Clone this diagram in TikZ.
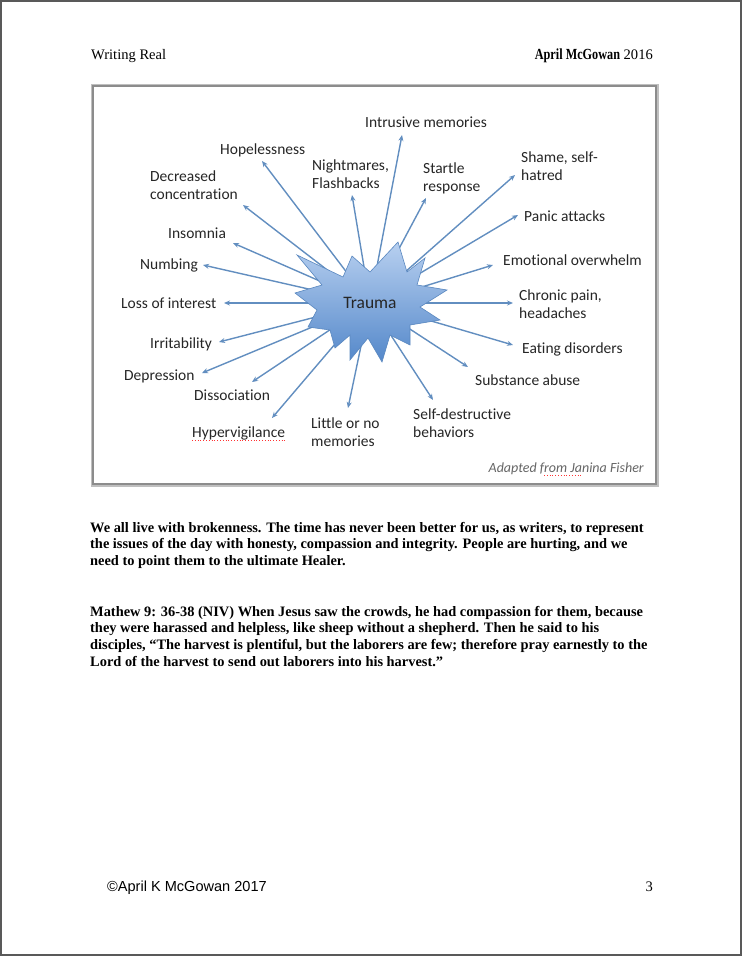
\documentclass[tikz,border=0pt]{standalone}
\usepackage{fontspec}
\setmainfont{Liberation Serif}
\newfontfamily\calibri[Ligatures=NoCommon]{Carlito}
\newfontfamily\arialf{Liberation Sans}
\usetikzlibrary{arrows.meta}
\definecolor{arrowblue}{RGB}{98,142,192}
\definecolor{starlight}{RGB}{184,208,240}
\definecolor{stardark}{RGB}{84,136,202}
\definecolor{starline}{RGB}{90,136,192}
\definecolor{framegray}{RGB}{140,140,140}
\begin{document}
\begin{tikzpicture}[x=1pt,y=-1pt,
  lab/.style={font=\calibri\fontsize{15.5}{18}\selectfont, inner sep=0pt, anchor=base west, align=left, text=black!85},
  ray/.style={draw=arrowblue, line width=1.4pt, -{Stealth[length=6pt,width=5pt]}},
  bodytext/.style={font=\bfseries\fontsize{14.4}{16.7}\selectfont, inner sep=0pt, anchor=base west, align=left},
  spell/.style={draw=red!80, line width=0.8pt, dotted}]
\useasboundingbox (0,0) rectangle (742,956);
\fill[white] (0,0) rectangle (742,956);
\draw[black!65, line width=2pt] (1,1) rectangle (741,955);

% header
\node[font=\fontsize{14.55}{16}\selectfont, inner sep=0pt, anchor=base west] (hl) at (91,59) {Writing Real};
\node[font=\fontsize{14.55}{16}\selectfont, inner sep=0pt, anchor=base east] (hr) at (653,59) {\scalebox{0.84}[1.06]{\bfseries April McGowan} 2016};

% frame
\draw[black!25, line width=5pt] (93,86) rectangle (656,484);
\draw[framegray, line width=2.6pt, fill=white] (93,86) rectangle (656,484);

% centre and arrow tips
\coordinate (c) at (370,303);
\coordinate (tHope) at (262,161);
\coordinate (tDec) at (243,205);
\coordinate (tIns) at (233,243);
\coordinate (tNum) at (203,265);
\coordinate (tLoss) at (224,303);
\coordinate (tIrr) at (219,342);
\coordinate (tDep) at (202,373);
\coordinate (tDis) at (252,382);
\coordinate (tHyp) at (272,418);
\coordinate (tLit) at (348,408);
\coordinate (tSelf) at (433,400);
\coordinate (tSub) at (468,367);
\coordinate (tEat) at (513,345);
\coordinate (tChr) at (513,303);
\coordinate (tEmo) at (493,265);
\coordinate (tPan) at (518,215);
\coordinate (tSha) at (515,175);
\coordinate (tSta) at (426,198);
\coordinate (tInt) at (402,135);
\coordinate (tNig) at (352,195);

\foreach \t in {tHope,tDec,tIns,tNum,tLoss,tIrr,tDep,tDis,tHyp,tLit,tSelf,tSub,tEat,tChr,tEmo,tPan,tSha,tSta,tInt,tNig}
  \draw[ray] (c) -- (\t);

% star
\draw[starline, line width=0.6pt, top color=starlight, bottom color=stardark]
  (398,242) -- (407,272) -- (425,258) -- (417,285) -- (447,290)
  -- (420,307) -- (440,320) -- (410,325) -- (410,345) -- (390,335)
  -- (382,362) -- (368,338) -- (350,360) -- (350,335) -- (335,348)
  -- (330,330) -- (308,327) -- (317,310) -- (295,293) -- (322,285)
  -- (297,255) -- (343,277) -- (352,256) -- (370,272) -- cycle;
\node[font=\calibri\fontsize{17.5}{20}\selectfont, inner sep=0pt, text=black!85] (trauma) at (370,303) {Trauma};

% labels (base anchor = baseline of the last line)
\node[lab] (lInt) at (365,127) {Intrusive memories};
\node[lab] (lHope) at (220,154) {Hopelessness};
\node[lab] (lNig) at (312,188) {Nightmares,\\Flashbacks};
\node[lab] (lSta) at (423,191) {Startle\\response};
\node[lab] (lSha) at (521,180) {Shame, self-\\hatred};
\node[lab] (lDec) at (150,199) {Decreased\\concentration};
\node[lab] (lPan) at (524,221) {Panic attacks};
\node[lab] (lIns) at (168,238) {Insomnia};
\node[lab] (lNum) at (140,269) {Numbing};
\node[lab] (lEmo) at (503,265) {Emotional overwhelm};
\node[lab] (lLoss) at (121,308) {Loss of interest};
\node[lab] (lChr) at (519,318) {Chronic pain,\\headaches};
\node[lab] (lIrr) at (150,348) {Irritability};
\node[lab] (lEat) at (522,353) {Eating disorders};
\node[lab] (lDep) at (124,380) {Depression};
\node[lab] (lSub) at (475,385) {Substance abuse};
\node[lab] (lDis) at (194,400) {Dissociation};
\node[lab] (lLit) at (311,446) {Little or no\\memories};
\node[lab] (lSelf) at (413,437) {Self-destructive\\behaviors};
\node[lab] (lHyp) at (192,437) {Hypervigilance};
\node[font=\calibri\itshape\fontsize{14}{16}\selectfont, inner sep=0pt, anchor=base east, text=black!60] (adapt) at (644,472) {Adapted from Janina Fisher};
\draw[spell] (lHyp.base west) ++(0,3.5) -- ++(93,0);
\draw[spell] (544,475.5) -- (583,475.5);

% body text (base anchor = baseline of the last line)
\node[bodytext] (p1) at (90,565.4) {We all live with brokenness. The time has never been better for us, as writers, to represent\\the issues of the day with honesty, compassion and integrity. People are hurting, and we\\need to point them to the ultimate Healer.};
\node[bodytext] (p2) at (90,666.1) {Mathew 9: 36-38 (NIV) When Jesus saw the crowds, he had compassion for them, because\\they were harassed and helpless, like sheep without a shepherd. Then he said to his\\disciples, ``The harvest is plentiful, but the laborers are few; therefore pray earnestly to the\\Lord of the harvest to send out laborers into his harvest.''};

% footer
\node[font=\arialf\fontsize{14.55}{16}\selectfont, inner sep=0pt, anchor=base west] (foot) at (107,891) {©April K McGowan 2017};
\node[font=\fontsize{14.55}{16}\selectfont, inner sep=0pt, anchor=base east] (pg) at (653,891) {3};
\end{tikzpicture}
\end{document}
